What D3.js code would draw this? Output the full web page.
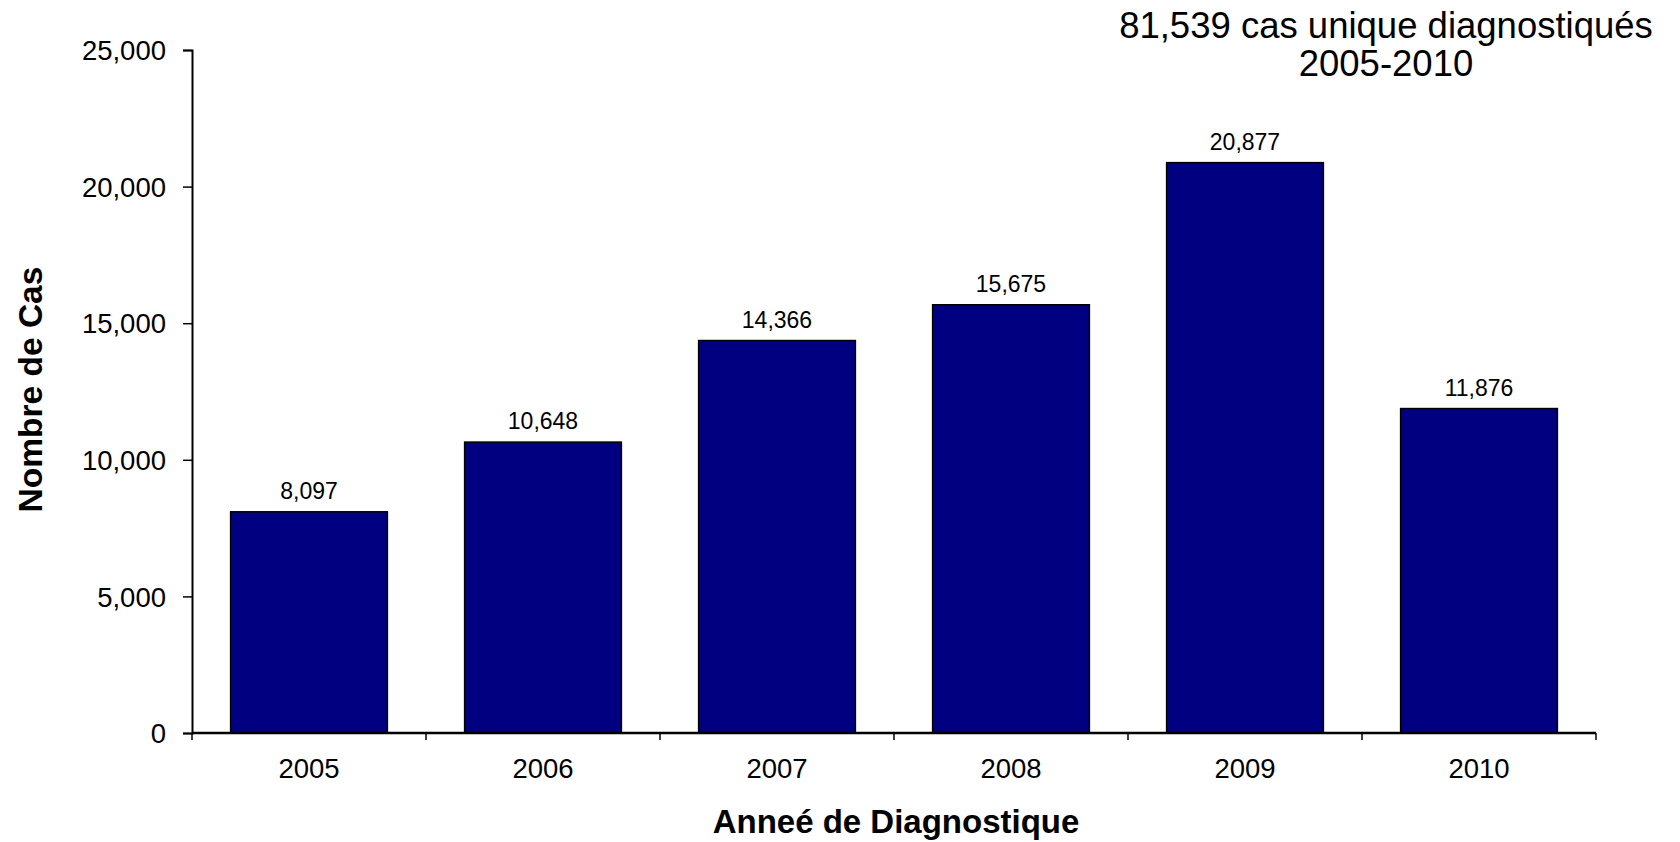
<!DOCTYPE html>
<html>
<head>
<meta charset="utf-8">
<script src="https://cdn.jsdelivr.net/npm/d3@7"></script>
<style>
  body { margin: 0; background: #ffffff; }
  text { font-family: Arial, "Liberation Sans", sans-serif; fill: #000; }
</style>
</head>
<body>
<svg id="chart"></svg>
<script>
// Data
const years  = ["2005", "2006", "2007", "2008", "2009", "2010"];
const cases  = [8097, 10648, 14366, 15675, 20877, 11876];
const yTicks = [0, 5000, 10000, 15000, 20000, 25000];
const titleLines = ["81,539 cas unique diagnostiqués", "2005-2010"];

const W = 1680, H = 842;
const margin = { top: 50, right: 84, bottom: 109, left: 192 };
const width  = W - margin.left - margin.right;
const height = H - margin.top - margin.bottom;

const svg = d3.select("#chart")
  .attr("width", W)
  .attr("height", H);

const g = svg.append("g")
  .attr("transform", `translate(${margin.left},${margin.top})`);

const x = d3.scaleBand()
  .domain(years)
  .range([0, width])
  .paddingInner(0.33)
  .paddingOuter(0.165);

const y = d3.scaleLinear()
  .domain([0, 25000])
  .range([height, 0]);

// Bars
g.selectAll(".bar")
  .data(years)
  .join("rect")
    .attr("class", "bar")
    .attr("x", (d) => x(d))
    .attr("width", x.bandwidth())
    .attr("y", (d, i) => y(cases[i]))
    .attr("height", (d, i) => height - y(cases[i]))
    .attr("fill", "#000080")
    .attr("stroke", "#000")
    .attr("stroke-width", 1.5);

// Value labels
g.selectAll(".val")
  .data(years)
  .join("text")
    .attr("class", "val")
    .attr("x", (d) => x(d) + x.bandwidth() / 2)
    .attr("y", (d, i) => y(cases[i]) - 13)
    .attr("text-anchor", "middle")
    .style("font-size", "23px")
    .text((d, i) => d3.format(",")(cases[i]));

// Y axis
const yAxis = g.append("g")
  .call(d3.axisLeft(y).tickValues(yTicks).tickFormat(d3.format(",")).tickSize(9).tickPadding(17));
yAxis.select(".domain").attr("stroke-width", 2);
yAxis.selectAll(".tick line").attr("stroke-width", 1.5);
yAxis.selectAll("text")
  .style("font-size", "27.5px")
  .attr("dy", "0.35em");

// X axis (ticks at band boundaries)
const xAxis = g.append("g")
  .attr("transform", `translate(0,${height})`);
xAxis.append("line")
  .attr("x1", 0).attr("x2", width)
  .attr("stroke", "#000")
  .attr("stroke-width", 2.5);
const bounds = years.map((d) => x(d) - x.step() * x.paddingInner() / 2).concat([width]);
xAxis.selectAll(".xtick")
  .data(bounds)
  .join("line")
    .attr("class", "xtick")
    .attr("x1", (d) => d).attr("x2", (d) => d)
    .attr("y1", 0).attr("y2", 7)
    .attr("stroke", "#000")
    .attr("stroke-width", 1.5);
xAxis.selectAll(".xlab")
  .data(years)
  .join("text")
    .attr("class", "xlab")
    .attr("x", (d) => x(d) + x.bandwidth() / 2)
    .attr("y", 45)
    .attr("text-anchor", "middle")
    .style("font-size", "27.5px")
    .text((d) => d);

// Axis titles
svg.append("text")
  .attr("x", margin.left + width / 2 + 2)
  .attr("y", 833)
  .attr("text-anchor", "middle")
  .style("font-size", "33px")
  .style("font-weight", "bold")
  .text("Anneé de Diagnostique");

svg.append("text")
  .attr("transform", `translate(42,${margin.top + height / 2 - 2}) rotate(-90)`)
  .attr("text-anchor", "middle")
  .style("font-size", "33.5px")
  .style("font-weight", "bold")
  .text("Nombre de Cas");

// Title
svg.selectAll(".title")
  .data(titleLines)
  .join("text")
    .attr("class", "title")
    .attr("x", 1386)
    .attr("y", (d, i) => 37.5 + i * 38.5)
    .attr("text-anchor", "middle")
    .style("font-size", "36.5px")
    .text((d) => d);
</script>
</body>
</html>
